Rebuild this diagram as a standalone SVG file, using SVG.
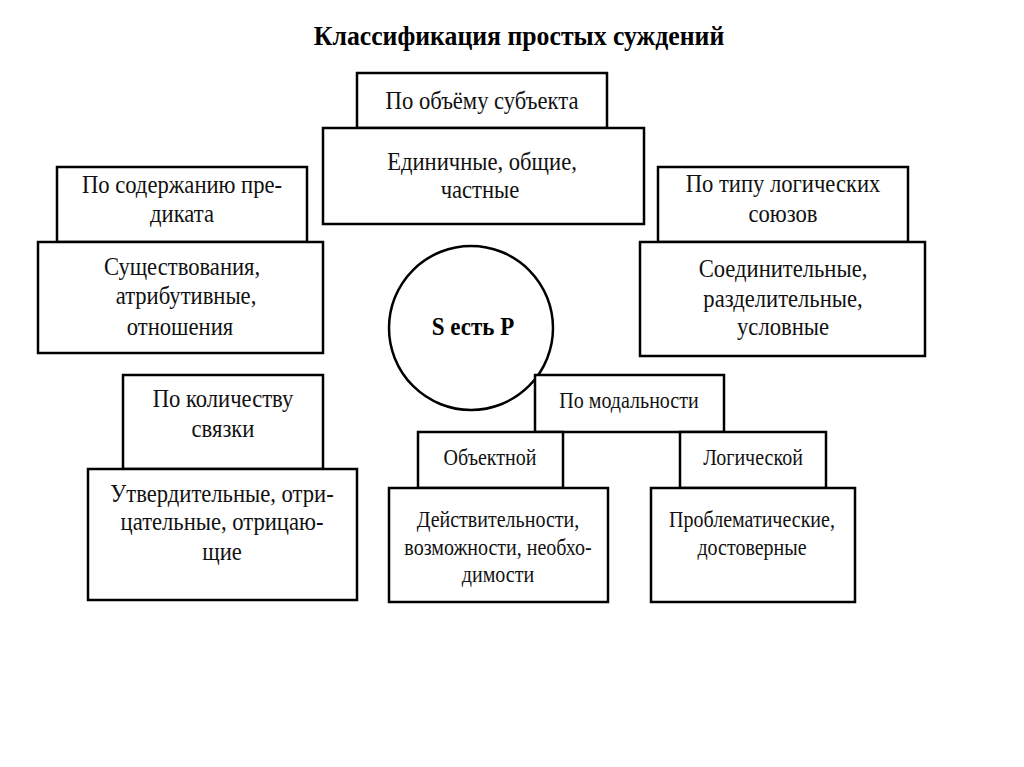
<svg xmlns="http://www.w3.org/2000/svg" width="1024" height="767" viewBox="0 0 1024 767">
<style>
.b{fill:#fff;stroke:#000;stroke-width:2.5}
text{font-family:"Liberation Serif","Times New Roman",serif;text-anchor:middle;fill:#111}
.t{font-size:26px}
.m{font-size:23px}
.h{font-size:28px;font-weight:bold;fill:#000}
.c{font-size:25px;font-weight:bold;fill:#000}
</style>
<rect width="1024" height="767" fill="#fff"/>
<text class="h" transform="translate(519,45) scale(0.92,1)">Классификация простых суждений</text>
<g id="subject">
<rect class="b" x="357" y="73" width="250" height="55"/>
<text class="t" transform="translate(482,109) scale(0.87,1)">По объёму субъекта</text>
<rect class="b" x="323" y="128" width="321" height="96"/>
<text class="t" transform="translate(482,170) scale(0.87,1)">Единичные, общие,</text>
<text class="t" transform="translate(480,198) scale(0.87,1)">частные</text>
</g>
<g id="predicate">
<rect class="b" x="57" y="167" width="250" height="75"/>
<text class="t" transform="translate(182,193) scale(0.87,1)">По содержанию пре-</text>
<text class="t" transform="translate(182,222) scale(0.87,1)">диката</text>
<rect class="b" x="38" y="242" width="285" height="111"/>
<text class="t" transform="translate(182,275) scale(0.87,1)">Существования,</text>
<text class="t" transform="translate(186,304) scale(0.87,1)">атрибутивные,</text>
<text class="t" transform="translate(180,335) scale(0.87,1)">отношения</text>
</g>
<g id="unions">
<rect class="b" x="658" y="167" width="250" height="75"/>
<text class="t" transform="translate(783,192) scale(0.87,1)">По типу логических</text>
<text class="t" transform="translate(783,222) scale(0.87,1)">союзов</text>
<rect class="b" x="640" y="242" width="285" height="114"/>
<text class="t" transform="translate(783,277) scale(0.87,1)">Соединительные,</text>
<text class="t" transform="translate(783,307) scale(0.87,1)">разделительные,</text>
<text class="t" transform="translate(783,335) scale(0.87,1)">условные</text>
</g>
<g id="center">
<circle class="b" cx="471" cy="328" r="82"/>
<text class="c" transform="translate(473,335) scale(0.92,1)">S есть P</text>
</g>
<g id="copula">
<rect class="b" x="123" y="375" width="200" height="94"/>
<text class="t" transform="translate(223,407) scale(0.87,1)">По количеству</text>
<text class="t" transform="translate(223,437) scale(0.87,1)">связки</text>
<rect class="b" x="88" y="469" width="269" height="131"/>
<text class="t" transform="translate(222,502) scale(0.87,1)">Утвердительные, отри-</text>
<text class="t" transform="translate(222,530) scale(0.87,1)">цательные, отрицаю-</text>
<text class="t" transform="translate(222,560) scale(0.87,1)">щие</text>
</g>
<g id="modality">
<rect class="b" x="535" y="375" width="189" height="57"/>
<text class="m" transform="translate(629,408) scale(0.87,1)">По модальности</text>
</g>
<g id="objective">
<rect class="b" x="418" y="432" width="145" height="56"/>
<text class="m" transform="translate(490,465) scale(0.87,1)">Объектной</text>
<rect class="b" x="389" y="488" width="219" height="114"/>
<text class="m" transform="translate(498,527) scale(0.87,1)">Действительности,</text>
<text class="m" transform="translate(498,555) scale(0.87,1)">возможности, необхо-</text>
<text class="m" transform="translate(498,582) scale(0.87,1)">димости</text>
</g>
<g id="logical">
<rect class="b" x="680" y="432" width="146" height="56"/>
<text class="m" transform="translate(753,465) scale(0.87,1)">Логической</text>
<rect class="b" x="651" y="488" width="204" height="114"/>
<text class="m" transform="translate(752,527) scale(0.87,1)">Проблематические,</text>
<text class="m" transform="translate(752,555) scale(0.87,1)">достоверные</text>
</g>
<g id="connectors"></g>
</svg>
